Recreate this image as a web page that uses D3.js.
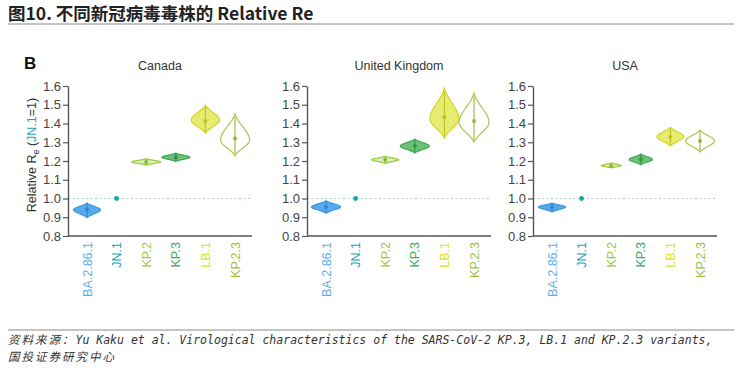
<!DOCTYPE html>
<html>
<head>
<meta charset="utf-8">
<script src="https://cdn.jsdelivr.net/npm/d3@7"></script>
<style>
  body { margin: 0; background: #fff; }
  svg { display: block; }
</style>
</head>
<body>
<div id="chart"></div>
<script>
// ---- data ----
var variants = ["BA.2.86.1", "JN.1", "KP.2", "KP.3", "LB.1", "KP.2.3"];
var countries = ["Canada", "United Kingdom", "USA"];
var yTicks = [0.8, 0.9, 1.0, 1.1, 1.2, 1.3, 1.4, 1.5, 1.6];

// median, lower tip, upper tip, mode, relative peak density
var canadaMid  = [0.940, 1.00, 1.195, 1.220, 1.413, 1.320];
var canadaLo   = [0.898, 1.00, 1.178, 1.198, 1.348, 1.228];
var canadaHi   = [0.976, 1.00, 1.212, 1.242, 1.498, 1.452];
var canadaMode = [0.940, 1.00, 1.195, 1.220, 1.418, 1.312];
var canadaPeak = [0.93, 0, 1.0, 0.97, 0.98, 1.0];

var ukMid  = [0.955, 1.00, 1.207, 1.280, 1.435, 1.413];
var ukLo   = [0.922, 1.00, 1.187, 1.243, 1.322, 1.300];
var ukHi   = [0.988, 1.00, 1.225, 1.317, 1.588, 1.562];
var ukMode = [0.955, 1.00, 1.207, 1.280, 1.425, 1.405];
var ukPeak = [1.0, 0, 0.93, 1.0, 1.0, 1.03];

var usaMid  = [0.955, 1.00, 1.173, 1.208, 1.330, 1.307];
var usaLo   = [0.928, 1.00, 1.163, 1.180, 1.280, 1.248];
var usaHi   = [0.976, 1.00, 1.190, 1.237, 1.380, 1.365];
var usaMode = [0.955, 1.00, 1.175, 1.208, 1.330, 1.307];
var usaPeak = [0.93, 0, 0.68, 0.8, 0.93, 1.0];

var panels = [
  {name: countries[0], mid: canadaMid, lo: canadaLo, hi: canadaHi, mode: canadaMode, peak: canadaPeak},
  {name: countries[1], mid: ukMid, lo: ukLo, hi: ukHi, mode: ukMode, peak: ukPeak},
  {name: countries[2], mid: usaMid, lo: usaLo, hi: usaHi, mode: usaMode, peak: usaPeak}
];

// ---- styling ----
var fillCol   = ["#4ea7ec", "#15a4b2", "#d4e8a2", "#5cbd68", "#e3e857", "#ffffff"];
var fillOp    = [0.95, 1, 0.8, 0.9, 0.85, 1];
var strokeCol = ["#3b98e2", "#15a4b2", "#9ec83f", "#3ca853", "#cfd62b", "#a3c94e"];
var innerCol  = ["#2f86d2", "#15a4b2", "#8ab93a", "#2f9446", "#b9c21f", "#8fbb3c"];
var labelCol  = ["#5cafe6", "#1aa5ae", "#9dc942", "#3aab57", "#dde322", "#97c441"];

var W = 740, H = 371;
var panelLeft = [68, 307, 533];
var panelW = 184;
var yTop = 86, yBot = 236;
var font = "'Liberation Sans', Arial, Helvetica, sans-serif";

var svg = d3.select("#chart").append("svg")
    .attr("width", W)
    .attr("height", H);

// title
svg.append("text")
  .attr("x", 8)
  .attr("y", 19.5)
  .style("font-family", "'Noto Sans CJK SC', 'Liberation Sans', sans-serif")
  .style("font-weight", "bold")
  .style("font-size", "17.5px")
  .style("fill", "#222")
  .text("图10. 不同新冠病毒毒株的 Relative Re");

svg.append("line")
  .attr("x1", 8).attr("x2", 734)
  .attr("y1", 24).attr("y2", 24)
  .style("stroke", "#8a8a8a")
  .style("stroke-width", 1);

svg.append("text")
  .attr("x", 24)
  .attr("y", 69)
  .style("font-family", font)
  .style("font-weight", "bold")
  .style("font-size", "17px")
  .style("fill", "#111")
  .text("B");

var y = d3.scaleLinear().domain([0.8, 1.6]).range([yBot, yTop]);
var wScale = d3.scaleLinear().domain([0, 1]).range([0, 14.5]);

// y label
var ylab = svg.append("text")
  .attr("transform", "translate(36,155) rotate(-90)")
  .attr("text-anchor", "middle")
  .style("font-family", font)
  .style("font-size", "12.5px")
  .style("fill", "#333");
ylab.append("tspan").text("Relative R");
ylab.append("tspan").attr("dy", 3).style("font-size", "9px").text("e");
ylab.append("tspan").attr("dy", -3).text(" (");
ylab.append("tspan").style("fill", "#1aa5ae").text("JN.1");
ylab.append("tspan").text("=1)");

// violin outline from the summary numbers
function violinPoints(lo, hi, mode) {
  var n = 48, pts = [], k = 2.0;
  var gEnd = Math.exp(-0.5 * k * k);
  for (var i = 0; i <= n; i++) {
    var v = lo + (hi - lo) * i / n;
    var s = v < mode ? (mode - lo) / k : (hi - mode) / k;
    var g = Math.exp(-0.5 * Math.pow((v - mode) / s, 2));
    pts.push({v: v, d: Math.max(0, (g - gEnd) / (1 - gEnd))});
  }
  return pts;
}

panels.forEach(function(p, pi) {
  var left = panelLeft[pi];
  var x = d3.scalePoint().domain(variants).range([19, 167]);
  var g = svg.append("g").attr("transform", "translate(" + left + ",0)");

  // country title
  g.append("text")
    .attr("x", panelW / 2)
    .attr("y", 70)
    .attr("text-anchor", "middle")
    .style("font-family", font)
    .style("font-size", "12.5px")
    .style("fill", "#333")
    .text(p.name);

  // reference line at 1.0
  g.append("line")
    .attr("x1", 0).attr("x2", panelW)
    .attr("y1", y(1)).attr("y2", y(1))
    .style("stroke", "#a9cfd4")
    .style("stroke-width", 1)
    .style("stroke-dasharray", "2,2.5");

  // y axis
  var yAxis = d3.axisLeft(y).tickValues(yTicks)
    .tickFormat(d3.format(".1f")).tickSize(5).tickSizeOuter(0).tickPadding(2);
  var ya = g.append("g").attr("class", "y axis").call(yAxis);
  ya.select(".domain").style("stroke", "#555").style("stroke-width", 1.4);
  ya.selectAll(".tick line").style("stroke", "#555").style("stroke-width", 1.2);
  ya.selectAll("text")
    .style("font-family", font)
    .style("font-size", "13px")
    .style("fill", "#444");

  // x axis baseline
  g.append("line")
    .attr("x1", 0).attr("x2", panelW)
    .attr("y1", yBot).attr("y2", yBot)
    .style("stroke", "#555")
    .style("stroke-width", 1.4);

  // x labels
  g.selectAll(".xlab")
    .data(variants)
   .enter()
    .append("text")
    .attr("class", "xlab")
    .attr("text-anchor", "end")
    .attr("transform", function(d) { return "translate(" + (x(d) + 4.5) + ",242) rotate(-90)"; })
    .style("font-family", font)
    .style("font-size", "12.5px")
    .style("fill", function(d, i) { return labelCol[i]; })
    .text(function(d) { return d; });

  // violins
  variants.forEach(function(v, i) {
    var cx = x(v);
    if (p.peak[i] === 0) {
      g.append("circle")
        .attr("cx", cx).attr("cy", y(p.mid[i])).attr("r", 2.4)
        .style("fill", fillCol[i]);
      return;
    }
    var area = d3.area()
      .x0(function(d) { return cx - wScale(d.d * p.peak[i]); })
      .x1(function(d) { return cx + wScale(d.d * p.peak[i]); })
      .y(function(d) { return y(d.v); })
      .curve(d3.curveBasis);
    g.append("path")
      .attr("d", area(violinPoints(p.lo[i], p.hi[i], p.mode[i])))
      .style("fill", fillCol[i])
      .style("fill-opacity", fillOp[i])
      .style("stroke", strokeCol[i])
      .style("stroke-width", 1.2);
    var ciLo = p.lo[i] + (p.mid[i] - p.lo[i]) * 0.12;
    var ciHi = p.hi[i] - (p.hi[i] - p.mid[i]) * 0.12;
    g.append("line")
      .attr("x1", cx).attr("x2", cx)
      .attr("y1", y(ciLo)).attr("y2", y(ciHi))
      .style("stroke", innerCol[i])
      .style("stroke-width", 1.1);
    g.append("circle")
      .attr("cx", cx).attr("cy", y(p.mid[i])).attr("r", 2)
      .style("fill", innerCol[i]);
  });
});

// footer
svg.append("line")
  .attr("x1", 8).attr("x2", 734)
  .attr("y1", 330).attr("y2", 330)
  .style("stroke", "#8a8a8a")
  .style("stroke-width", 1);

var cjk = "'Noto Sans CJK SC', sans-serif";
var mono = "'DejaVu Sans Mono', 'Liberation Mono', monospace";
var f1 = svg.append("text")
  .attr("x", 8).attr("y", 343.5)
  .style("font-style", "italic")
  .style("fill", "#333");
f1.append("tspan").style("font-family", cjk).style("font-size", "11.5px")
  .style("letter-spacing", "2px").text("资料来源：");
f1.append("tspan").style("font-family", mono).style("font-size", "11.5px")
  .text("Yu Kaku et al. Virological characteristics of the SARS-CoV-2 KP.3, LB.1 and KP.2.3 variants,");

svg.append("text")
  .attr("x", 8).attr("y", 360.5)
  .style("font-style", "italic")
  .style("font-family", cjk)
  .style("font-size", "11.5px")
  .style("letter-spacing", "2px")
  .style("fill", "#333")
  .text("国投证券研究中心");
</script>
</body>
</html>
